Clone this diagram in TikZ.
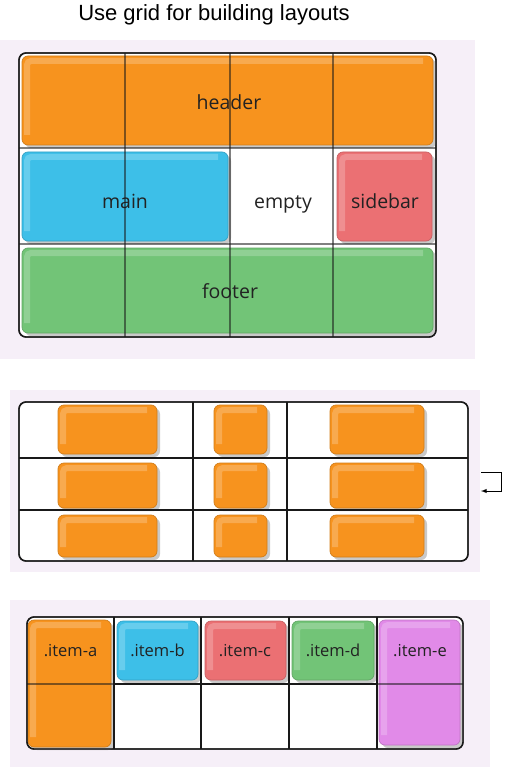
\documentclass[tikz,border=0pt]{standalone}
\usepackage{fontspec}
\setmainfont{Liberation Sans}
\newfontfamily\cellfont{Open Sans}
\usepackage{xcolor}
\usepackage{tikz}
\usetikzlibrary{shadows}
\usetikzlibrary{arrows}
\usetikzlibrary{positioning}

\definecolor{panelbg}{HTML}{F6EFF8}
\definecolor{gridorange}{HTML}{F7931E}
\definecolor{gridblue}{HTML}{3DBFE8}
\definecolor{gridred}{HTML}{EB7073}
\definecolor{gridgreen}{HTML}{72C477}
\definecolor{gridviolet}{HTML}{E18AE8}
\definecolor{labelgrey}{HTML}{222222}

\begin{document}
\begin{tikzpicture}[x=1pt, y=-1pt,
  panel/.style = {fill=panelbg, draw=none},
  frame/.style = {draw=black!90, line width=1.4pt, rounded corners=7pt},
  gridline/.style = {draw=black!90, line width=1.1pt, opacity=#1},
  gridline/.default = 0.55,
  box/.style = {shape=rectangle, rounded corners=6pt, inner sep=0pt,
    fill=#1, draw=#1!85!black, line width=0.7pt,
    drop shadow={shadow xshift=3pt, shadow yshift=-3pt, fill=black!35, opacity=0.6},
    path picture={\draw[white, opacity=0.22, line width=6pt, rounded corners=4pt]
      ([xshift=5pt, yshift=10pt]path picture bounding box.south west)
      |- ([xshift=-10pt, yshift=-5pt]path picture bounding box.north east);}},
  lbl/.style = {anchor=base, inner sep=0pt, text=labelgrey,
    font=\cellfont\fontsize{19.5}{22}\selectfont},
  itemlbl/.style = {lbl, font=\cellfont\fontsize{16.5}{19}\selectfont}]

\useasboundingbox (0,0) rectangle (510,770);

\node[anchor=base, inner sep=0pt, font=\fontsize{22}{26}\selectfont] (title) at (214,21) {Use grid for building layouts};

% template areas
\fill[panel] (0,40) rectangle (475,359);
\filldraw[frame, fill=white] (19,53) rectangle (436,337);
\node[box=gridorange, minimum width=411pt, minimum height=89pt] (header) at (227.5,100.5) {};
\node[box=gridblue, minimum width=206pt, minimum height=89pt] (main) at (125,196.5) {};
\node[box=gridred, minimum width=95pt, minimum height=89pt] (sidebar) at (384.5,196.5) {};
\node[box=gridgreen, minimum width=411pt, minimum height=85pt] (footer) at (227.5,290.5) {};
\node[lbl] (header-lbl) at (229,110) {header};
\node[lbl] (main-lbl) at (125,208) {main};
\node[lbl] (empty-lbl) at (283,208) {empty};
\node[lbl] (sidebar-lbl) at (385,208) {sidebar};
\node[lbl] (footer-lbl) at (230,298) {footer};
\draw[gridline] (125,53) -- (125,337);
\draw[gridline] (230,53) -- (230,337);
\draw[gridline] (333,53) -- (333,337);
\draw[gridline] (19,148) -- (436,148);
\draw[gridline] (19,244) -- (436,244);
\draw[frame] (19,53) rectangle (436,337);

% auto placement
\fill[panel] (10,390) rectangle (480,572);
\filldraw[frame, fill=white] (19,402) rectangle (468,561);
\node[box=gridorange, minimum width=99pt, minimum height=49pt] (cell-1-1) at (107.5,429.5) {};
\node[box=gridorange, minimum width=53pt, minimum height=49pt] (cell-1-2) at (240.5,429.5) {};
\node[box=gridorange, minimum width=94pt, minimum height=49pt] (cell-1-3) at (377,429.5) {};
\node[box=gridorange, minimum width=99pt, minimum height=45pt] (cell-2-1) at (107.5,485.5) {};
\node[box=gridorange, minimum width=53pt, minimum height=45pt] (cell-2-2) at (240.5,485.5) {};
\node[box=gridorange, minimum width=94pt, minimum height=45pt] (cell-2-3) at (377,485.5) {};
\node[box=gridorange, minimum width=99pt, minimum height=42pt] (cell-3-1) at (107.5,536) {};
\node[box=gridorange, minimum width=53pt, minimum height=42pt] (cell-3-2) at (240.5,536) {};
\node[box=gridorange, minimum width=94pt, minimum height=42pt] (cell-3-3) at (377,536) {};
\draw[gridline=1] (193,402) -- (193,561);
\draw[gridline=1] (287,402) -- (287,561);
\draw[gridline=1] (19,458) -- (468,458);
\draw[gridline=1] (19,510) -- (468,510);
\draw[frame] (19,402) rectangle (468,561);
\coordinate (wrap-in) at (481,472);
\coordinate (wrap-out) at (481,491);
\draw[-latex, line width=0.9pt] (wrap-in) -- (501,472) -- (501,491) -- (wrap-out);

% spanning items
\fill[panel] (10,600) rectangle (490,767);
\filldraw[frame, fill=white] (27,617) rectangle (463,749);
\node[box=gridorange, minimum width=83pt, minimum height=127pt] (item-a) at (69.5,683.5) {};
\node[box=gridblue, minimum width=81pt, minimum height=59pt] (item-b) at (157.5,650.5) {};
\node[box=gridred, minimum width=81pt, minimum height=59pt] (item-c) at (245.5,650.5) {};
\node[box=gridgreen, minimum width=82pt, minimum height=59pt] (item-d) at (333,650.5) {};
\node[box=gridviolet, minimum width=81pt, minimum height=125pt] (item-e) at (419.5,682.5) {};
\node[itemlbl] (item-a-lbl) at (70.5,656) {.item-a};
\node[itemlbl] (item-b-lbl) at (157.5,656) {.item-b};
\node[itemlbl] (item-c-lbl) at (245,656) {.item-c};
\node[itemlbl] (item-d-lbl) at (333,656) {.item-d};
\node[itemlbl] (item-e-lbl) at (420,656) {.item-e};
\draw[gridline=1] (114,617) -- (114,684);
\draw[gridline=1] (201,617) -- (201,749);
\draw[gridline=1] (289,617) -- (289,749);
\draw[gridline=1] (377,617) -- (377,749);
\draw[gridline=1] (114,684) -- (114,749);
\draw[gridline=1] (114,684) -- (377,684);
\draw[gridline] (27,684) -- (114,684);
\draw[gridline] (377,684) -- (463,684);
\draw[frame] (27,617) rectangle (463,749);
\end{tikzpicture}
\end{document}
